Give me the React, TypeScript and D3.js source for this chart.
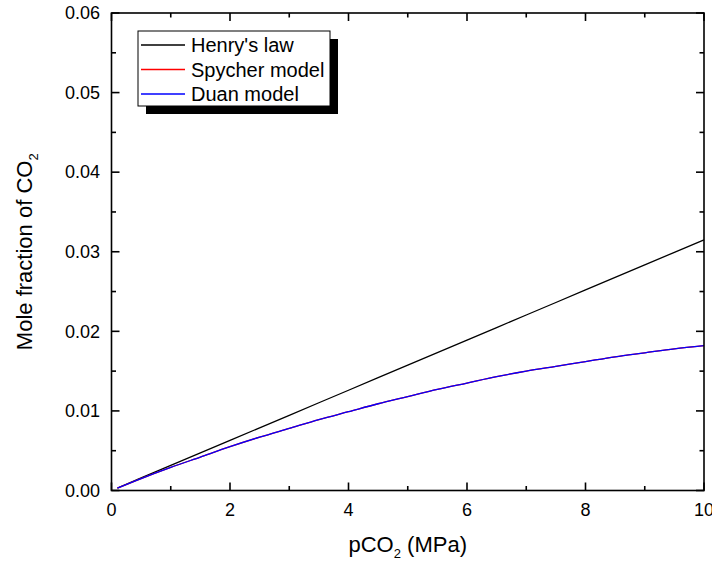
import React from "react";
import * as d3 from "d3";

const W = 712, H = 564;
const pressure = [0.1, 0.5, 1, 1.5, 2, 2.5, 3, 3.5, 4, 4.5, 5, 5.5, 6, 6.5, 7, 7.5, 8, 8.5, 9, 9.5, 10];
const henry = [0.000315, 0.001575, 0.00315, 0.004725, 0.0063, 0.007875, 0.00945, 0.011025, 0.0126, 0.014175, 0.01575, 0.017325, 0.0189, 0.020475, 0.02205, 0.023625, 0.0252, 0.026775, 0.02835, 0.029925, 0.0315];
const spycher = [0.0003, 0.0015, 0.0029, 0.0042, 0.0055, 0.0067, 0.0078, 0.0089, 0.0099, 0.0109, 0.0118, 0.0127, 0.0135, 0.0143, 0.0150, 0.0156, 0.0162, 0.0168, 0.0173, 0.0178, 0.0182];
const duan = [0.0003, 0.0015, 0.0029, 0.0042, 0.0055, 0.0067, 0.0078, 0.0089, 0.0099, 0.0109, 0.0118, 0.0127, 0.0135, 0.0143, 0.0150, 0.0156, 0.0162, 0.0168, 0.0173, 0.0178, 0.0182];
const xTicks = [0, 2, 4, 6, 8, 10];
const xMinor = [1, 3, 5, 7, 9];
const yTicks = [0, 0.01, 0.02, 0.03, 0.04, 0.05, 0.06];
const yMinor = [0.005, 0.015, 0.025, 0.035, 0.045, 0.055];
const legendItems = [
  { label: "Henry's law", color: "#000000" },
  { label: "Spycher model", color: "#ff0000" },
  { label: "Duan model", color: "#0000ff" },
];

const L = 111.5, R = 704, T = 13, B = 490.5;
const FONT = "Arial, 'Liberation Sans', sans-serif";

export default function App() {
  const x = d3.scaleLinear().domain([0, 10]).range([L, R]);
  const y = d3.scaleLinear().domain([0, 0.06]).range([B, T]);
  const straight = (vals: number[]) =>
    d3.line<number>().x((_, i) => x(pressure[i])).y((v) => y(v))(vals) || "";
  const smooth = (vals: number[]) =>
    d3.line<number>().x((_, i) => x(pressure[i])).y((v) => y(v)).curve(d3.curveMonotoneX)(vals) || "";

  const major = 8, minor = 4.5;
  return (
    <div style={{ position: "absolute", left: 0, top: 0 }}>
      <svg width={W} height={H} style={{ display: "block", fontFamily: FONT }}>
        <rect x={0} y={0} width={W} height={H} fill="#fff" />
        {/* data */}
        <path d={straight(henry)} fill="none" stroke="#000" strokeWidth={1.3} />
        <path d={smooth(spycher)} fill="none" stroke="#ff0000" strokeWidth={1.3} />
        <path d={smooth(duan)} fill="none" stroke="#0000ff" strokeWidth={1.3} />
        {/* frame */}
        <rect x={L} y={T} width={R - L} height={B - T} fill="none" stroke="#000" strokeWidth={1.6} />
        {/* x ticks */}
        {xTicks.map((t) => (
          <g key={"xt" + t}>
            <line x1={x(t)} x2={x(t)} y1={B} y2={B - major} stroke="#000" strokeWidth={1.6} />
            <line x1={x(t)} x2={x(t)} y1={T} y2={T + major} stroke="#000" strokeWidth={1.6} />
            <text x={x(t)} y={516} fontSize={18} textAnchor="middle">{t}</text>
          </g>
        ))}
        {xMinor.map((t) => (
          <g key={"xm" + t}>
            <line x1={x(t)} x2={x(t)} y1={B} y2={B - minor} stroke="#000" strokeWidth={1.6} />
            <line x1={x(t)} x2={x(t)} y1={T} y2={T + minor} stroke="#000" strokeWidth={1.6} />
          </g>
        ))}
        {yTicks.map((t) => (
          <g key={"yt" + t}>
            <line x1={L} x2={L + major} y1={y(t)} y2={y(t)} stroke="#000" strokeWidth={1.6} />
            <line x1={R} x2={R - major} y1={y(t)} y2={y(t)} stroke="#000" strokeWidth={1.6} />
            <text x={100} y={y(t) + 6.3} fontSize={18} textAnchor="end">{t.toFixed(2)}</text>
          </g>
        ))}
        {yMinor.map((t) => (
          <g key={"ym" + t}>
            <line x1={L} x2={L + minor} y1={y(t)} y2={y(t)} stroke="#000" strokeWidth={1.6} />
            <line x1={R} x2={R - minor} y1={y(t)} y2={y(t)} stroke="#000" strokeWidth={1.6} />
          </g>
        ))}
        {/* axis titles */}
        <text x={(L + R) / 2} y={552} fontSize={22} textAnchor="middle">
          pCO<tspan fontSize={13} dy={6}>2</tspan><tspan dy={-6}> (MPa)</tspan>
        </text>
        <text transform={`translate(32,${(T + B) / 2}) rotate(-90)`} fontSize={22} textAnchor="middle">
          Mole fraction of CO<tspan fontSize={13} dy={6}>2</tspan>
        </text>
        {/* legend */}
        <rect x={146} y={39} width={192} height={75} fill="#000" />
        <rect x={138} y={31} width={192} height={75} fill="#fff" stroke="#000" strokeWidth={1} />
        {legendItems.map((it, i) => (
          <g key={it.label}>
            <line x1={141} x2={185} y1={45 + i * 24.5} y2={45 + i * 24.5} stroke={it.color} strokeWidth={1.3} />
            <text x={191} y={45 + i * 24.5 + 7} fontSize={20}>{it.label}</text>
          </g>
        ))}
      </svg>
    </div>
  );
}
